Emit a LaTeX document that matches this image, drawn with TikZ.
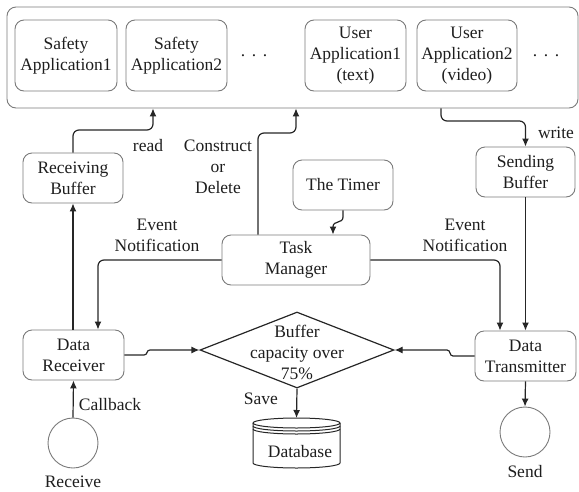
\documentclass[tikz,border=0pt]{standalone}
\usepackage{fontspec}
\setmainfont{Liberation Serif}
\usetikzlibrary{arrows.meta,shapes.geometric,calc}
\definecolor{boxgray}{HTML}{7A7A7A}
\definecolor{linecol}{HTML}{262626}
\definecolor{txtcol}{HTML}{1E1E1E}
\begin{document}
\begin{tikzpicture}[x=1pt,y=-1pt,
  every node/.style={font=\fontsize{17.5}{21}\selectfont, text=txtcol, align=center},
  box/.style={draw=boxgray, line width=0.9pt, rounded corners=9pt, inner sep=0pt},
  conn/.style={draw=linecol, line width=1.2pt, rounded corners=6pt},
  arr/.style={conn, -{Latex[length=8pt,width=7pt]}},
  lbl/.style={inner sep=0pt},
]
\useasboundingbox (0,0) rectangle (579,491);

% application layer
\node[box, minimum width=571pt, minimum height=101pt] (cont) at (292.5,57.5) {};
\node[box, minimum width=102pt, minimum height=71pt] (sa1) at (66,55.5) {Safety\\Application1};
\node[box, minimum width=101pt, minimum height=71pt] (sa2) at (176.5,55.5) {Safety\\Application2};
\node[lbl, anchor=base] (dots1) at (254,56) {.\hspace{6.6pt}.\hspace{6.6pt}.};
\node[box, minimum width=101pt, minimum height=71pt] (ua1) at (355.5,55.5) {User\\Application1\\(text)};
\node[box, minimum width=100pt, minimum height=71pt] (ua2) at (467,55.5) {User\\Application2\\(video)};
\node[lbl, anchor=base] (dots2) at (546,56) {.\hspace{6.6pt}.\hspace{6.6pt}.};

% buffers, timer and manager
\node[box, minimum width=100pt, minimum height=50pt] (rb) at (73,178) {Receiving\\Buffer};
\node[box, minimum width=100pt, minimum height=50pt] (timer) at (343,185) {The Timer};
\node[box, minimum width=99pt, minimum height=50pt] (sb) at (525.5,172) {Sending\\Buffer};
\node[box, minimum width=148pt, minimum height=50pt] (tm) at (296,260) {Task\\Manager};

% data path
\node[box, minimum width=101pt, minimum height=50pt] (dr) at (73.5,355) {Data\\Receiver};
\node[box, minimum width=101pt, minimum height=50pt] (dt) at (525.5,356) {Data\\Transmitter};
\node[diamond, draw=linecol, line width=1.2pt, minimum width=194pt, minimum height=76pt, inner sep=0pt] (dia) at (297,350) {};
\node[lbl] (diatxt) at (297,352) {Buffer\\capacity over\\75\%};
\node[circle, draw=boxgray, line width=0.9pt, minimum size=50pt, inner sep=0pt] (rc) at (73,443) {};
\node[circle, draw=boxgray, line width=0.9pt, minimum size=50pt, inner sep=0pt] (sc) at (525,432) {};

% database cylinder
\coordinate (dbtop) at (296.5,418);
\begin{scope}[draw=linecol, line width=1pt]
  \draw (296.5,423) ellipse [x radius=43.5, y radius=5];
  \draw (253,426) arc[start angle=180, end angle=0, x radius=43.5, y radius=5];
  \draw (253,429) arc[start angle=180, end angle=0, x radius=43.5, y radius=5];
  \draw (253,423) -- (253,463) arc[start angle=180, end angle=0, x radius=43.5, y radius=5] -- (340,423);
\end{scope}
\node[lbl] (dbtxt) at (300,452) {Database};

% connectors
\draw[arr] (rb.north) |- (153,130) -- (153,0 |- cont.south);
\draw[arr] (258,0 |- tm.north) |- (296,133) -- (296,0 |- cont.south);
\draw[arr] (441,0 |- cont.south) |- (525.5,121) -- (sb.north);
\draw[arr] (dr.north -| rb.south) -- (rb.south);
\draw[arr] (tm.west) -| (98,0 |- dr.north);
\draw[arr] (tm.east) -| (500,0 |- dt.north);
\draw[arr] (sb.south) -- (sb.south |- dt.north);
\draw[arr, rounded corners=0pt] (timer.south) -- (343,217) .. controls (343,224) and (333,220) .. (333,227) -- (333,0 |- tm.north);
\draw[arr, rounded corners=0pt] (dr.east) -- (144,355) .. controls (148,355) and (146,350) .. (150,350) -- (dia.west);
\draw[arr, rounded corners=0pt] (dt.west) -- (453,356) .. controls (449,356) and (451,350) .. (447,350) -- (dia.east);
\draw[arr] (dia.south) -- (dbtop);
\draw[arr] (dt.south) -- (sc.north);
\draw[arr] (rc.north) -- (dr.south);

% connector labels
\node[lbl] (lread) at (148,146) {read};
\node[lbl] (lcons) at (218,167) {Construct\\or\\Delete};
\node[lbl] (lwrite) at (556,133) {write};
\node[lbl] (levl) at (157,235) {Event\\Notification};
\node[lbl] (levr) at (465,235) {Event\\Notification};
\node[lbl] (lcall) at (110,405) {Callback};
\node[lbl] (lsave) at (261,399) {Save};
\node[lbl] (lrecv) at (73,482) {Receive};
\node[lbl] (lsend) at (525,472) {Send};
\end{tikzpicture}
\end{document}
